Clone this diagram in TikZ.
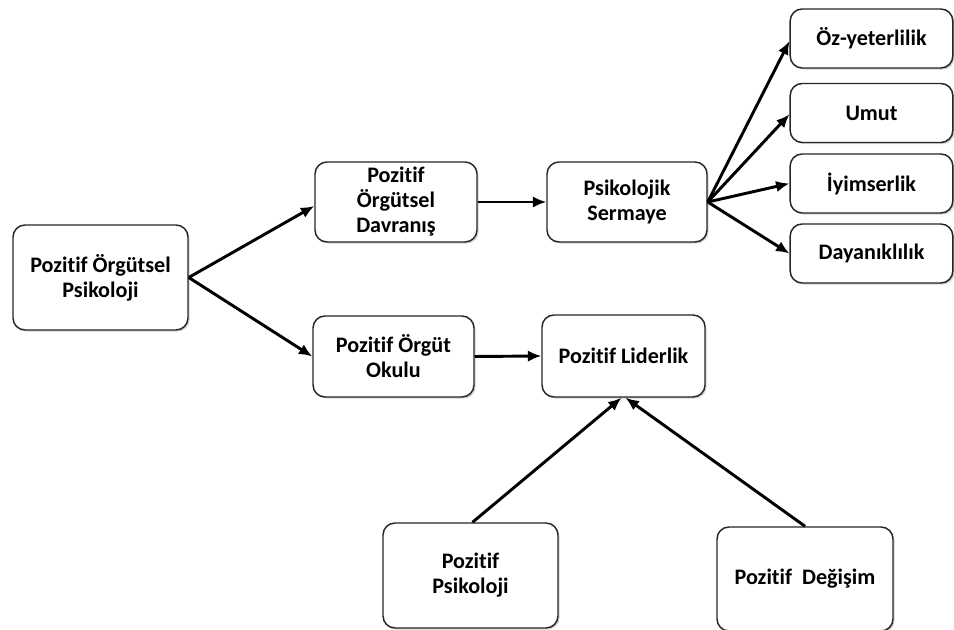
\documentclass[tikz,border=0pt]{standalone}
\usepackage{fontspec}
\setmainfont{Carlito}[RawFeature=-liga]
\usetikzlibrary{arrows.meta,shadows}
\begin{document}
\begin{tikzpicture}[x=0.75pt,y=-0.75pt,
  box/.style={draw=black!85, line width=1.1pt, rounded corners=9pt, fill=white,
    align=center, inner sep=0pt, font=\fontsize{16.6}{18.75}\selectfont\bfseries,
    drop shadow={shadow xshift=1.2pt, shadow yshift=-1.2pt, opacity=0.35}},
  conn/.style={line width=2.2pt, -{Latex[length=10pt,width=8.5pt]}}]
\useasboundingbox (0,0) rectangle (954,630);
\node[box, minimum width=131.25pt, minimum height=78.75pt] (A) at (100.5,277.5) {Pozitif Örgütsel\\Psikoloji};
\node[box, minimum width=121.5pt, minimum height=60pt] (B) at (396,202) {Pozitif\\Örgütsel\\Davranış};
\node[box, minimum width=120.75pt, minimum height=60.75pt] (C) at (393.5,356.5) {Pozitif Örgüt\\Okulu};
\node[box, minimum width=120pt, minimum height=60pt] (D) at (627,202) {Psikolojik\\Sermaye};
\node[box, minimum width=122pt, minimum height=44.25pt] (E1) at (871.5,38.5) {Öz-yeterlilik};
\node[box, minimum width=122pt, minimum height=44.25pt] (E2) at (871.5,113) {Umut};
\node[box, minimum width=122pt, minimum height=44.25pt] (E3) at (871.5,183.5) {İyimserlik};
\node[box, minimum width=122pt, minimum height=44.25pt] (E4) at (871.5,253.5) {Dayanıklılık};
\node[box, minimum width=122.25pt, minimum height=61.5pt] (F) at (623.5,356) {Pozitif Liderlik};
\node[box, minimum width=131.25pt, minimum height=78.75pt] (G) at (470.5,575.5) {Pozitif\\Psikoloji};
\node[box, minimum width=132pt, minimum height=78pt] (H) at (805,579) {Pozitif\ \ Değişim};
\draw[conn] (A.east) -- ([yshift=-3pt]B.west);
\draw[conn] (A.east) -- (C.west);
\draw[conn] (B.east) -- (D.west);
\draw[conn] (C.east) -- (F.west);
\draw[conn] (D.east) -- ([yshift=-2pt]E1.west);
\draw[conn] (D.east) -- ([yshift=-1pt]E2.west);
\draw[conn] (D.east) -- (E3.west);
\draw[conn] (D.east) -- (E4.west);
\draw[conn] ([xshift=1.5pt]G.north) -- ([xshift=-1.5pt]F.south);
\draw[conn] (H.north) -- ([xshift=1.5pt]F.south);
\end{tikzpicture}
\end{document}
